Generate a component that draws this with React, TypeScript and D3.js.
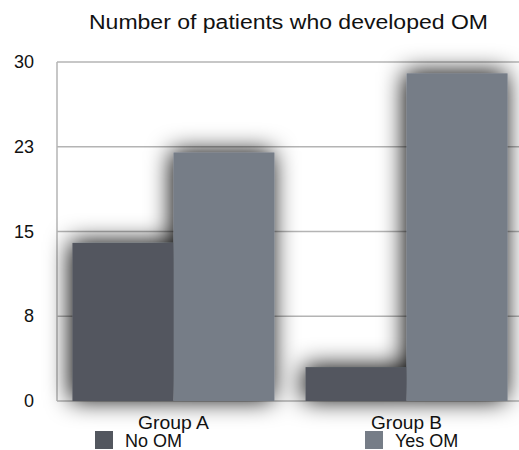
import React from "react";
import * as d3 from "d3";

const groups = ["Group A", "Group B"];
const seriesNames = ["No OM", "Yes OM"];
const noOM = [14, 3];
const yesOM = [22, 29];
const yTicks = [0, 7.5, 15, 22.5, 30];
const yTickLabels = ["0", "8", "15", "23", "30"];
const title = "Number of patients who developed OM";

const colors = ["#53575f", "#767d87"];

export default function App() {
  const W = 519, H = 450;
  const left = 57, right = 523, top = 62, bottom = 401;
  const font = "Liberation Sans, Arial, Helvetica, sans-serif";
  const x0 = d3.scaleBand<string>().domain(groups).range([left, right]).paddingInner(0.133).paddingOuter(0.066);
  const x1 = d3.scaleBand<string>().domain(seriesNames).range([0, x0.bandwidth()]);
  const y = d3.scaleLinear().domain([0, 30]).range([bottom, top]);
  const values = [noOM, yesOM];

  return (
    <svg width={W} height={H} style={{ position: "absolute", left: 0, top: 0, background: "#fff" }}>
      <defs>
        <filter id="sh" x="-50%" y="-50%" width="200%" height="200%">
          <feGaussianBlur in="SourceAlpha" stdDeviation="12" />
          <feOffset dx="-2" dy="-1" result="b" />
          <feComponentTransfer>
            <feFuncA type="linear" slope="1.0" />
          </feComponentTransfer>
          <feMerge>
            <feMergeNode />
            <feMergeNode in="SourceGraphic" />
          </feMerge>
        </filter>
      </defs>
      <rect width={W} height={H} fill="#fff" />
      <text x={288.5} y={29} textAnchor="middle" fontFamily={font} fontSize={20} textLength={399} lengthAdjust="spacingAndGlyphs" fill="#111">{title}</text>
      {yTicks.map((t, i) => (
        <g key={i}>
          <line x1={left} x2={right} y1={y(t)} y2={y(t)} stroke="#b4b4b4" strokeWidth={1.5} />
          <text x={34} y={y(t) + 6} textAnchor="end" fontFamily={font} fontSize={18} fill="#111">{yTickLabels[i]}</text>
        </g>
      ))}
      <line x1={left} x2={left} y1={top} y2={bottom} stroke="#b4b4b4" strokeWidth={1.5} />
      <g filter="url(#sh)">
        {groups.map((g, gi) =>
          seriesNames.map((s, si) => (
            <rect key={g + s}
              x={(x0(g) as number) + (x1(s) as number)}
              y={y(values[si][gi])}
              width={x1.bandwidth()}
              height={bottom - y(values[si][gi])}
              fill={colors[si]} />
          ))
        )}
      </g>
      {groups.map((g) => (
        <text key={g} x={(x0(g) as number) + x0.bandwidth() / 2} y={429} textAnchor="middle" fontFamily={font} fontSize={18} textLength={71} lengthAdjust="spacingAndGlyphs" fill="#111">{g}</text>
      ))}
      {seriesNames.map((s, i) => {
        const lx = [95, 365][i];
        return (
          <g key={s}>
            <rect x={lx} y={431} width={18} height={18} fill={colors[i]} />
            <text x={lx + 30} y={447} fontFamily={font} fontSize={18} fill="#111">{s}</text>
          </g>
        );
      })}
    </svg>
  );
}
